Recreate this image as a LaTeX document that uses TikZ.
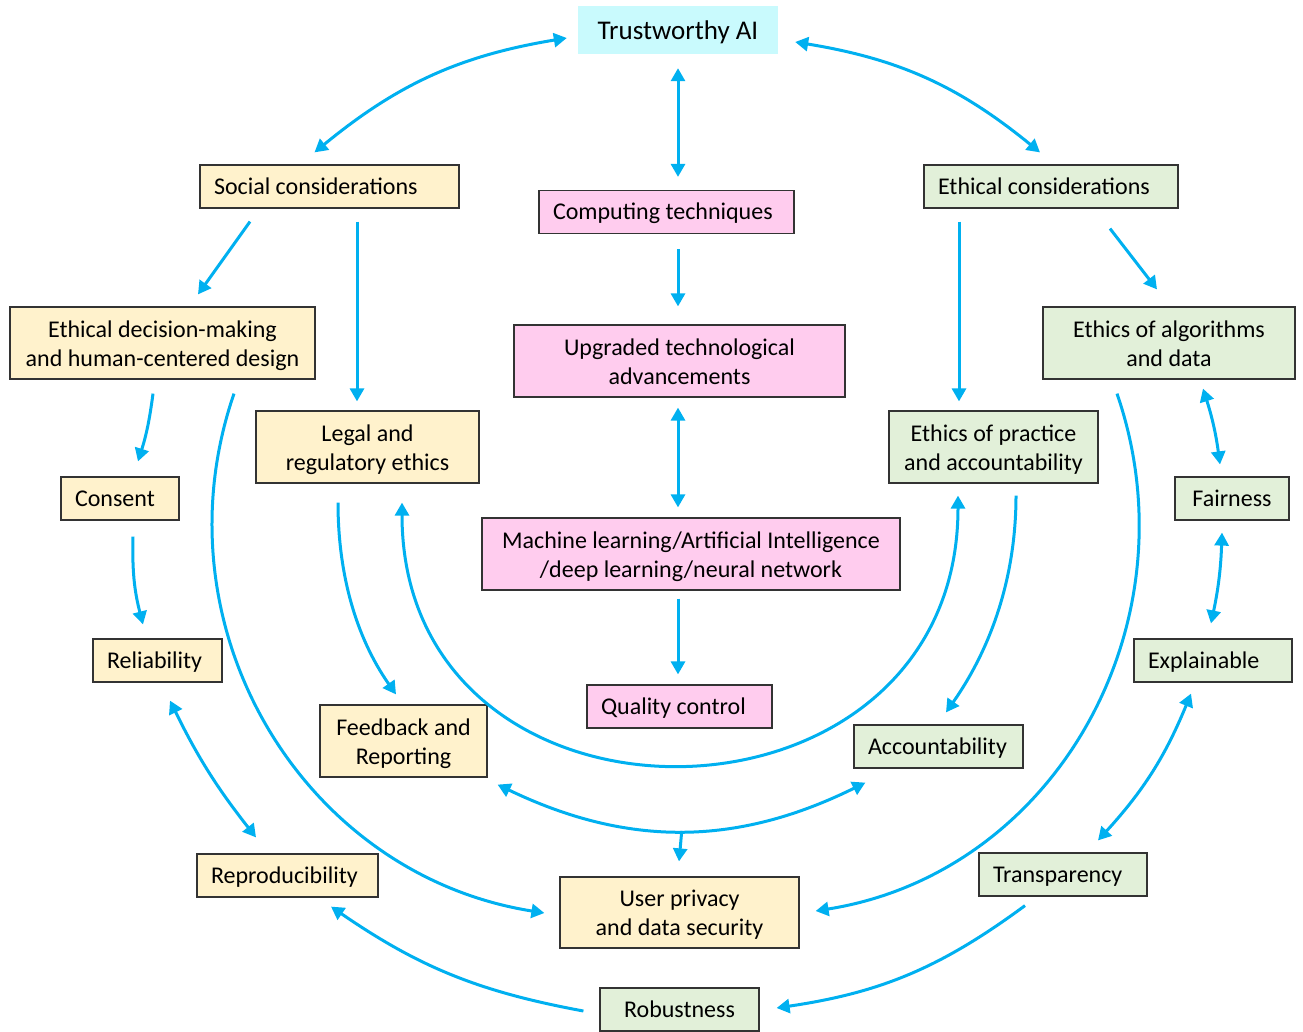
\documentclass[tikz,border=0pt]{standalone}
\usepackage{fontspec}
\setmainfont{Carlito}
\usepackage{xcolor}
\usetikzlibrary{arrows.meta}
\hyphenpenalty=10000
\exhyphenpenalty=10000
\definecolor{aifill}{HTML}{C9FAFD}
\definecolor{socfill}{HTML}{FFF2CC}
\definecolor{techfill}{HTML}{FFCCEE}
\definecolor{ethfill}{HTML}{E2F0D9}
\definecolor{arrblue}{HTML}{00B0F0}
\tikzset{
  box/.style={draw=black!80, line width=1.2pt, inner xsep=14pt, inner ysep=0pt,
    font=\fontsize{24}{29}\selectfont, text=black},
  onebox/.style={box, minimum height=43pt, text height=19pt, text depth=3pt, align=flush left},
  twobox/.style={box, minimum height=72pt, text height=48pt, text depth=2pt, align=center},
  topbox/.style={fill=aifill, inner sep=0pt, minimum width=200pt, minimum height=48pt,
    text height=21pt, text depth=1pt, font=\fontsize{27}{32}\selectfont},
  socbox/.style={fill=socfill},
  techbox/.style={fill=techfill},
  ethbox/.style={fill=ethfill},
  conn/.style={draw=arrblue, line width=3pt, -{Triangle[length=13pt, width=14pt]}},
  biconn/.style={conn, {Triangle[length=13pt, width=14pt]}-{Triangle[length=13pt, width=14pt]}},
}

\begin{document}
\begin{tikzpicture}[x=1pt, y=-1pt]
  \useasboundingbox (0,0) rectangle (1303,1032);

  % Define nodes
  \node[topbox] (trust_ai) at (678,30) {Trustworthy AI};

  \node[onebox, socbox, text width=231pt] (social) at (329.5,186.5) {Social considerations};
  \node[onebox, techbox, text width=227pt] (computing) at (666.5,212) {Computing techniques};
  \node[onebox, ethbox, text width=226pt] (ethical) at (1051,186.5) {Ethical considerations};

  \node[twobox, socbox, minimum width=305pt] (ethic_dec) at (162.5,343) {Ethical decision-making\\and human-centered design};
  \node[twobox, techbox, minimum width=331pt] (upgraded) at (679.5,361) {Upgraded technological\\advancements};
  \node[twobox, ethbox, minimum width=252pt] (algorithms) at (1169,343) {Ethics of algorithms\\and data};

  \node[twobox, socbox, minimum width=223pt] (legal) at (367.5,447) {Legal and\\regulatory ethics};
  \node[twobox, ethbox, minimum width=209pt] (practice) at (993.5,447) {Ethics of practice\\and accountability};

  \node[onebox, socbox, text width=90pt] (consent) at (120,498.5) {Consent};
  \node[onebox, ethbox, minimum width=114pt] (fairness) at (1232,498.5) {Fairness};
  \node[twobox, techbox, minimum width=418pt] (ml_ai) at (691,554) {Machine learning/Artificial Intelligence\\/deep learning/neural network};

  \node[onebox, socbox, text width=101pt] (reliability) at (157.5,660.5) {Reliability};
  \node[onebox, ethbox, text width=130pt] (explainable) at (1213,660.5) {Explainable};
  \node[onebox, techbox, text width=157pt] (quality) at (679.5,706.5) {Quality control};
  \node[twobox, socbox, minimum width=167pt] (feedback) at (403.5,741) {Feedback and\\Reporting};
  \node[onebox, ethbox, text width=141pt] (accountability) at (938.5,746.5) {Accountability};

  \node[onebox, socbox, text width=153pt] (reproducibility) at (287.5,875.5) {Reproducibility};
  \node[onebox, ethbox, text width=140pt] (transparency) at (1063,874.5) {Transparency};
  \node[twobox, socbox, minimum width=239pt, minimum height=71pt] (user_privacy) at (679.5,912.5) {User privacy\\and data security};
  \node[onebox, ethbox, minimum width=159pt] (robustness) at (679.5,1009.5) {Robustness};

  % Connect nodes
  \draw[biconn] ([shift={(-11,8)}]trust_ai.west) to[bend right=15] ([shift={(-15,-12)}]social.north);
  \draw[biconn] ([shift={(17,12)}]trust_ai.east) to[bend left=15] ([shift={(-11,-12)}]ethical.north);
  \draw[biconn] ([shift={(0,14)}]trust_ai.south) -- ([shift={(11.5,-13)}]computing.north);

  \draw[conn] ([shift={(11.5,15)}]computing.south) -- ([shift={(-1.5,-18)}]upgraded.north);
  \draw[biconn] ([shift={(-1.5,10)}]upgraded.south) -- ([shift={(-13,-10)}]ml_ai.north);
  \draw[conn] ([shift={(-13,8)}]ml_ai.south) -- ([shift={(-1.5,-10)}]quality.north);

  \draw[conn] ([shift={(-79.5,13)}]social.south) -- ([shift={(35.5,-12)}]ethic_dec.north);
  \draw[conn] ([shift={(27.5,13)}]social.south) -- ([shift={(-10.5,-9)}]legal.north);
  \draw[conn] ([shift={(-9.5,14)}]ethic_dec.south) to[bend left=5] ([shift={(18,-15)}]consent.north);
  \draw[conn] ([shift={(13,16)}]consent.south) to[bend right=8] ([shift={(-14.5,-14)}]reliability.north);
  \draw[biconn] ([shift={(12.5,18)}]reliability.south) to[bend right=6] ([shift={(-31.5,-16)}]reproducibility.north);
  \draw[conn] ([shift={(71.5,14)}]ethic_dec.south) to[out=-109, in=171, looseness=1.04] ([shift={(-15,0.5)}]user_privacy.west);

  \draw[conn] ([shift={(-29.5,19)}]legal.south) to[out=-90, in=125, looseness=0.9] ([shift={(-7.5,-10)}]feedback.north);
  \draw[biconn] ([shift={(34.5,19)}]legal.south) to[out=-90, in=-90, looseness=1.62] ([shift={(-35.5,12)}]practice.south);
  \draw[biconn] ([shift={(10,7)}]feedback.south east) to[bend right=26] coordinate[pos=0.5] (fb_acc) ([shift={(12,14)}]accountability.south west);
  \draw[conn] (fb_acc) -- ([shift={(-0.5,-15)}]user_privacy.north);

  \draw[conn] ([shift={(-92,13)}]ethical.south) -- ([shift={(-34.5,-9)}]practice.north);
  \draw[conn] ([shift={(59,20)}]ethical.south) -- ([shift={(-12,-17)}]algorithms.north);
  \draw[conn] ([shift={(22.5,12)}]practice.south) to[out=-90, in=55, looseness=0.9] ([shift={(7.5,-12)}]accountability.north);
  \draw[conn] ([shift={(-52,14)}]algorithms.south) to[out=-71, in=9, looseness=1.04] ([shift={(16,-1.5)}]user_privacy.east);

  \draw[biconn] ([shift={(34,9)}]algorithms.south) to[bend left=5] ([shift={(-12,-12)}]fairness.north);
  \draw[biconn] ([shift={(-10,12)}]fairness.south) to[bend left=5] ([shift={(-2,-15)}]explainable.north);
  \draw[biconn] ([shift={(-22,11)}]explainable.south) to[bend left=10] ([shift={(35,-12)}]transparency.north);
  \draw[conn] ([shift={(-38,9)}]transparency.south) to[bend left=14] ([shift={(17,-1.5)}]robustness.east);
  \draw[conn] ([shift={(-16,1.5)}]robustness.west) to[bend left=12] ([shift={(43.5,9)}]reproducibility.south);

\end{tikzpicture}
\end{document}
